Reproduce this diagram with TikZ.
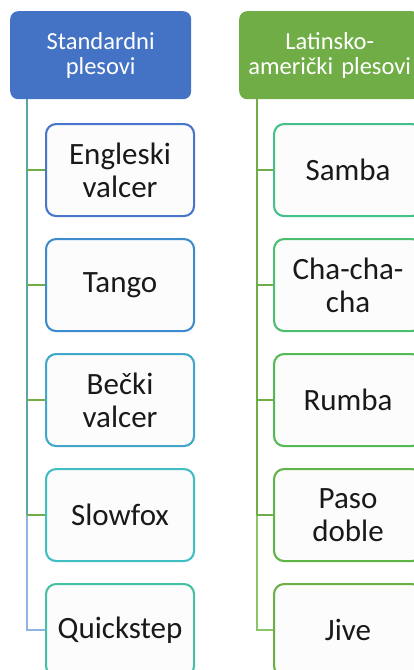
\documentclass[tikz,border=0pt]{standalone}
\usepackage{fontspec}
\setmainfont{Carlito}
\definecolor{hblue}{RGB}{68,114,196}
\definecolor{hgreen}{RGB}{112,173,71}
\definecolor{cA}{RGB}{72,118,204}
\definecolor{cB}{RGB}{62,140,204}
\definecolor{cC}{RGB}{66,166,200}
\definecolor{cD}{RGB}{64,190,192}
\definecolor{cE}{RGB}{68,192,164}
\definecolor{cF}{RGB}{68,192,138}
\definecolor{cG}{RGB}{76,190,112}
\definecolor{cH}{RGB}{84,186,86}
\definecolor{cI}{RGB}{96,181,72}
\definecolor{cJ}{RGB}{106,176,70}
\definecolor{tealspine}{RGB}{92,164,160}
\definecolor{lightblue}{RGB}{141,180,226}
\definecolor{lightgreen}{RGB}{140,196,104}
\definecolor{boxfill}{RGB}{252,252,252}
\tikzset{
  header/.style={rectangle, rounded corners=8pt, minimum width=181pt, minimum height=88pt,
    text width=178pt, align=center, text=white, inner sep=0pt,
    font=\fontsize{24.5}{25}\selectfont, anchor=north west},
  child/.style={rectangle, rounded corners=10pt, draw, line width=2.1pt, fill=boxfill,
    minimum width=148pt, minimum height=92pt, text width=144pt, align=center,
    inner sep=0pt, text=black!90, font=\fontsize{31}{33}\selectfont, anchor=north west},
  spine/.style={line width=2.4pt},
  branch/.style={line width=2.4pt, draw=hgreen},
}
\begin{document}
\begin{tikzpicture}[x=1pt,y=1pt]
\useasboundingbox (0,0) rectangle (414,-670);
% headers
\node[header, fill=hblue] (h1) at (10,-11) {Standardni\\plesovi};
\node[header, fill=hgreen] (h2) at (239,-11) {Latinsko-\\američki plesovi};
% left children
\node[child, draw=cA] (l1) at (45,-123) {Engleski\\valcer};
\node[child, draw=cB] (l2) at (45,-238) {Tango};
\node[child, draw=cC] (l3) at (45,-353) {Bečki\\valcer};
\node[child, draw=cD] (l4) at (45,-468) {Slowfox};
\node[child, draw=cE] (l5) at (45,-583) {Quickstep};
% right children
\node[child, draw=cF] (r1) at (273,-123) {Samba};
\node[child, draw=cG] (r2) at (273,-238) {Cha-cha-\\cha};
\node[child, draw=cH] (r3) at (273,-353) {Rumba};
\node[child, draw=cI] (r4) at (273,-468) {Paso\\doble};
\node[child, draw=cJ] (r5) at (273,-583) {Jive};
% spines
\coordinate (ls) at (27,-99);
\coordinate (rs) at (257,-99);
\draw[spine, draw=tealspine] (ls) -- (ls |- l4.west);
\draw[spine, draw=lightblue] (ls |- l4.west) -- (ls |- l5.west) -- (l5.west);
\foreach \n in {l1,l2,l3,l4} \draw[branch] (ls |- \n.west) -- (\n.west);
\draw[spine, draw=hgreen] (rs) -- (rs |- r4.west);
\draw[spine, draw=lightgreen] (rs |- r4.west) -- (rs |- r5.west) -- (r5.west);
\foreach \n in {r1,r2,r3,r4} \draw[branch] (rs |- \n.west) -- (\n.west);
\end{tikzpicture}
\end{document}
